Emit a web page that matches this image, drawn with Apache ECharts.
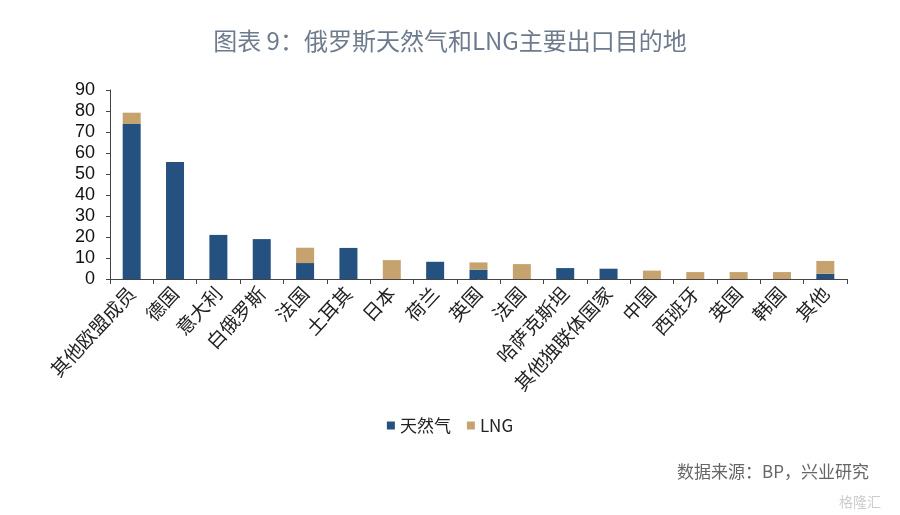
<!DOCTYPE html>
<html><head><meta charset="utf-8">
<script src="https://cdn.jsdelivr.net/npm/echarts@6/dist/echarts.min.js"></script>
<style>html,body{margin:0;padding:0;background:#fff}#c{width:900px;height:515px}</style>
</head><body><div id="c"></div>
<script>
const categories = ['其他欧盟成员','德国','意大利','白俄罗斯','法国','土耳其','日本','荷兰','英国','法国','哈萨克斯坦','其他独联体国家','中国','西班牙','英国','韩国','其他'];
const gasValues = [73.8,55.7,21.0,19.0,7.6,14.8,0,8.2,4.4,0,5.2,4.9,0,0,0,0,2.5];
const lngValues = [5.4,0,0,0,7.3,0,9.0,0,3.5,7.1,0,0,4.0,3.3,3.3,3.3,6.1];
const yTicks = [0,10,20,30,40,50,60,70,80,90];

const chart = echarts.init(document.getElementById('c'));
chart.setOption({
  animation:false,
  title:[{text:'图表 9：俄罗斯天然气和LNG主要出口目的地',left:'center',top:24,
    textStyle:{color:'#6e7b8e',fontSize:24,fontWeight:'normal',fontFamily:'Noto Sans CJK SC'}},
    {text:'数据来源：BP，兴业研究',right:26,top:458,
    textStyle:{color:'#666',fontSize:17,fontWeight:'normal',fontFamily:'Noto Sans CJK SC'}},
    {text:'格隆汇',right:14,top:490,
    textStyle:{color:'#ccc',fontSize:14,fontWeight:'normal',fontFamily:'Noto Sans CJK SC'}}],
  legend:{data:['天然气','LNG'],left:'center',top:412,itemWidth:8,itemHeight:8,itemGap:16,icon:'rect',
    textStyle:{fontSize:17,color:'#222',fontFamily:'Noto Sans CJK SC'}},
  grid:{left:110,right:53,top:90,bottom:236,containLabel:false},
  xAxis:{type:'category',data:categories,
    axisLine:{lineStyle:{color:'#444'}},
    axisTick:{show:true,alignWithLabel:false,length:5,lineStyle:{color:'#444'}},
    axisLabel:{interval:0,rotate:47,fontSize:19,color:'#222',margin:11,fontFamily:'Noto Sans CJK SC'}},
  yAxis:{type:'value',min:0,max:90,interval:10,
    axisLine:{show:true,lineStyle:{color:'#444'}},
    axisTick:{show:true,inside:false,length:4,lineStyle:{color:'#444'}},
    splitLine:{show:false},
    axisLabel:{fontSize:18,color:'#111',fontFamily:'Liberation Sans',margin:15,
      formatter:v=>yTicks.includes(v)?String(v):''}},
  series:[
    {name:'天然气',type:'bar',stack:'a',data:gasValues,barWidth:18,itemStyle:{color:'#24517f'}},
    {name:'LNG',type:'bar',stack:'a',data:lngValues,barWidth:18,itemStyle:{color:'#c6a26f'}}
  ]
});
</script></body></html>
